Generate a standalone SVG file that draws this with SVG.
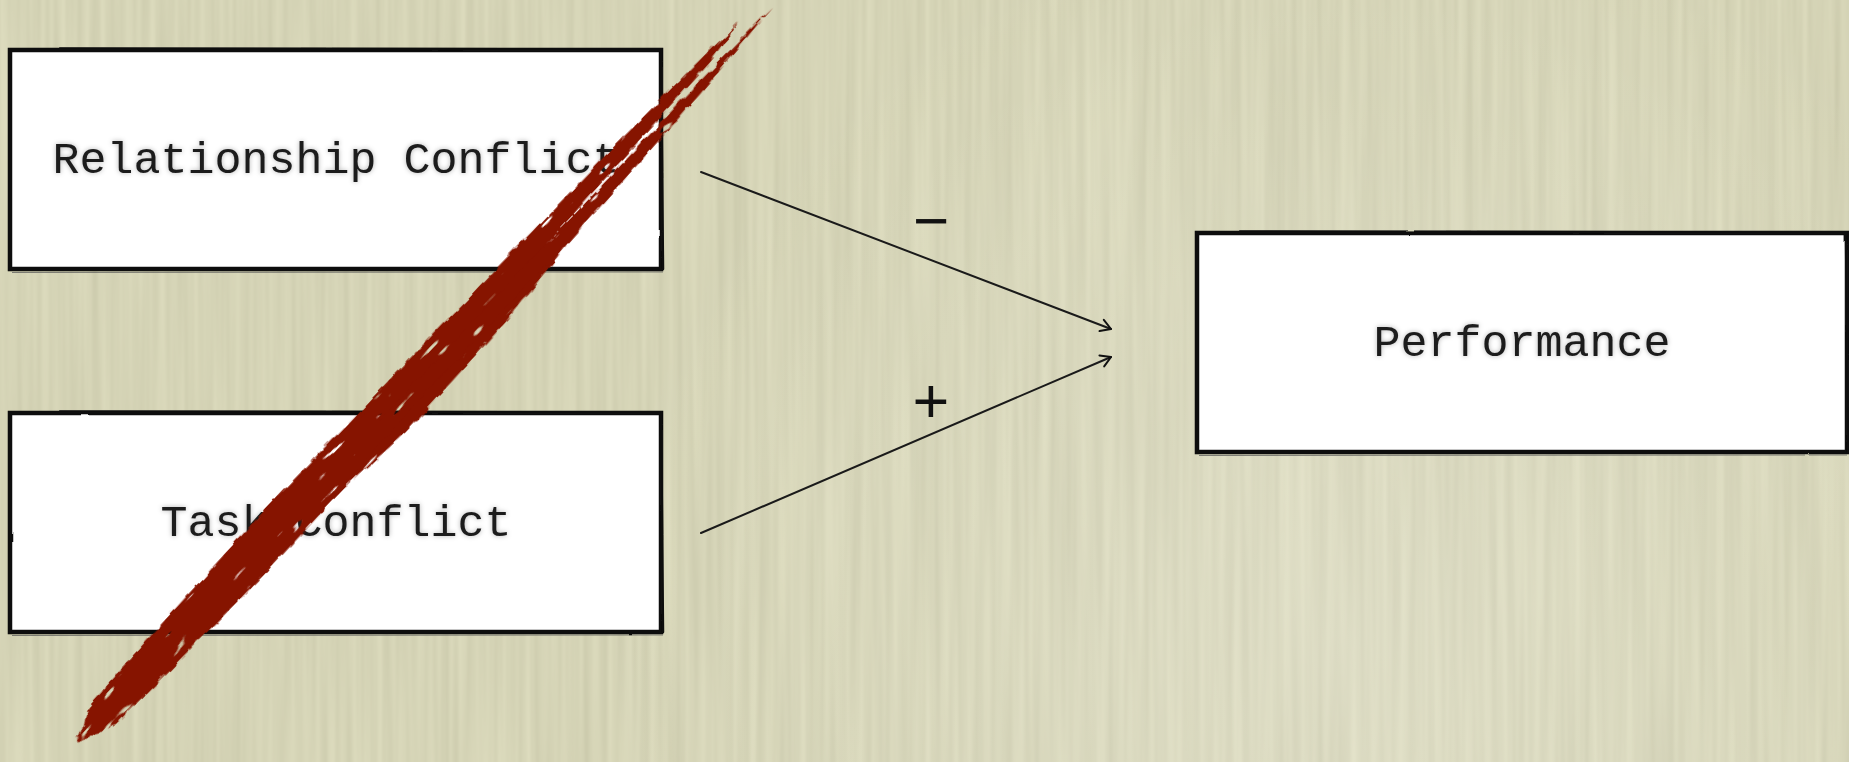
<svg xmlns="http://www.w3.org/2000/svg" width="1849" height="762" viewBox="0 0 1849 762">
  <defs>
    <style>
      .box { fill: #ffffff; stroke: #111; stroke-width: 4.5; }
      .box-edge { fill: none; stroke: #111; stroke-width: 2.5; stroke-linecap: round; }
      .box-ghost { fill: none; stroke: #555; stroke-width: 1; opacity: 0.7; }
      .label { font-family: "Liberation Mono", "Courier New", monospace; font-size: 45px; fill: #1c1c1c; text-anchor: middle; }
      .sign { font-family: "Liberation Sans", Arial, sans-serif; fill: #111; text-anchor: middle; }
      .link { fill: none; stroke: #1a1a1a; stroke-width: 2; stroke-linecap: round; }
      .ink { fill: #861400; }
    </style>

    <!-- vertical paper grain -->
    <filter id="grain" filterUnits="userSpaceOnUse" x="0" y="0" width="1849" height="762" color-interpolation-filters="sRGB">
      <feTurbulence type="fractalNoise" baseFrequency="0.12 0.003" numOctaves="2" seed="5" result="t"/>
      <feColorMatrix in="t" type="matrix" values="0.09 0 0 0 0.79  0.09 0 0 0 0.785  0.09 0 0 0 0.668  0 0 0 0 1"/>
    </filter>

    <radialGradient id="light" cx="1350" cy="640" r="760" gradientUnits="userSpaceOnUse">
      <stop offset="0" stop-color="#fff" stop-opacity="0.2"/>
      <stop offset="1" stop-color="#fff" stop-opacity="0"/>
    </radialGradient>

    <!-- soft halo behind the box labels -->
    <filter id="halo" x="-10%" y="-40%" width="120%" height="180%">
      <feGaussianBlur in="SourceAlpha" stdDeviation="2.6" result="b"/>
      <feFlood flood-color="#000" flood-opacity="0.3"/>
      <feComposite in2="b" operator="in" result="s"/>
      <feMerge><feMergeNode in="s"/><feMergeNode in="SourceGraphic"/></feMerge>
    </filter>

    <!-- hand-drawn wobble for the box outlines -->
    <filter id="sketch" x="-2%" y="-5%" width="104%" height="110%">
      <feTurbulence type="fractalNoise" baseFrequency="0.04" numOctaves="2" seed="2" result="n"/>
      <feDisplacementMap in="SourceGraphic" in2="n" scale="1.6" xChannelSelector="R" yChannelSelector="G"/>
    </filter>

    <!-- dry-brush edge and sparse streaks for the red stroke (local x runs along the stroke) -->
    <filter id="brush" x="-3%" y="-80%" width="106%" height="260%" color-interpolation-filters="sRGB">
      <feTurbulence type="fractalNoise" baseFrequency="0.06 0.12" numOctaves="3" seed="7" result="noise"/>
      <feDisplacementMap in="SourceGraphic" in2="noise" scale="7" xChannelSelector="R" yChannelSelector="G" result="rough"/>
      <feTurbulence type="fractalNoise" baseFrequency="0.025 0.12" numOctaves="2" seed="11" result="streak"/>
      <feColorMatrix in="streak" type="matrix" values="0 0 0 0 0  0 0 0 0 0  0 0 0 0 0  -17 0 0 0 13" result="mask"/>
      <feComposite in="rough" in2="mask" operator="in"/>
    </filter>

    <marker id="chev" viewBox="-13 -8 15 16" refX="0" refY="0" markerWidth="15" markerHeight="16" orient="auto" markerUnits="userSpaceOnUse">
      <path d="M -10 -6 L 0 0 L -10 6" fill="none" stroke="#111" stroke-width="2" stroke-linecap="round" stroke-linejoin="round"/>
    </marker>
  </defs>

  <!-- paper -->
  <rect x="0" y="0" width="1849" height="762" fill="#d4d3b5"/>
  <rect x="0" y="0" width="1849" height="762" filter="url(#grain)"/>
  <rect x="0" y="0" width="1849" height="762" fill="url(#light)"/>

  <!-- nodes -->
  <g id="node-relationship">
    <rect class="box" x="10" y="50" width="651" height="219" filter="url(#sketch)"/>
    <path class="box-edge" d="M 60 48.5 L 661 49.5 L 663 269" filter="url(#sketch)"/>
    <path class="box-ghost" d="M 12 272.5 L 663 272" filter="url(#sketch)"/>
    <text class="label" x="336" y="173" filter="url(#halo)">Relationship Conflict</text>
  </g>

  <g id="node-task">
    <rect class="box" x="10" y="413" width="651" height="219" filter="url(#sketch)"/>
    <path class="box-edge" d="M 60 411.5 L 661 412.5 L 663 632" filter="url(#sketch)"/>
    <path class="box-ghost" d="M 12 635.5 L 663 635" filter="url(#sketch)"/>
    <text class="label" x="336" y="536" filter="url(#halo)">Task Conflict</text>
  </g>

  <g id="node-performance">
    <rect class="box" x="1197" y="233" width="650" height="219" filter="url(#sketch)"/>
    <path class="box-edge" d="M 1240 231.5 L 1846 232.5 L 1848 452" filter="url(#sketch)"/>
    <path class="box-ghost" d="M 1199 455.5 L 1847 455" filter="url(#sketch)"/>
    <text class="label" x="1522" y="356" filter="url(#halo)">Performance</text>
  </g>

  <!-- connectors -->
  <g id="connectors">
    <path class="link" d="M 701 172 L 1111 329" marker-end="url(#chev)"/>
    <path class="link" d="M 701 533 L 1111 357" marker-end="url(#chev)"/>
    <text class="sign" x="931" y="242" font-size="62">−</text>
    <text class="sign" x="931" y="423" font-size="63">+</text>
  </g>

  <!-- red strike-through brush stroke -->
  <g id="strike" transform="translate(77 742) rotate(-46.6)">
    <g class="ink" filter="url(#brush)">
      <polygon points="0,-2 60,-18 300,-23 600,-21 800,-19 930,-16 978,-13 930,-8 800,-4 600,1 300,4 60,5"/>
      <polygon points="20,4 100,-3 400,-2 700,-1 900,-1.5 1012,0 900,7.5 700,14 400,20 100,17"/>
      <polygon points="0,0 40,-16 250,-22 440,-16 440,19 250,21 40,16"/>
      <polygon points="340,18 460,14 640,12 700,14 600,23 450,26"/>
    </g>
  </g>
</svg>
